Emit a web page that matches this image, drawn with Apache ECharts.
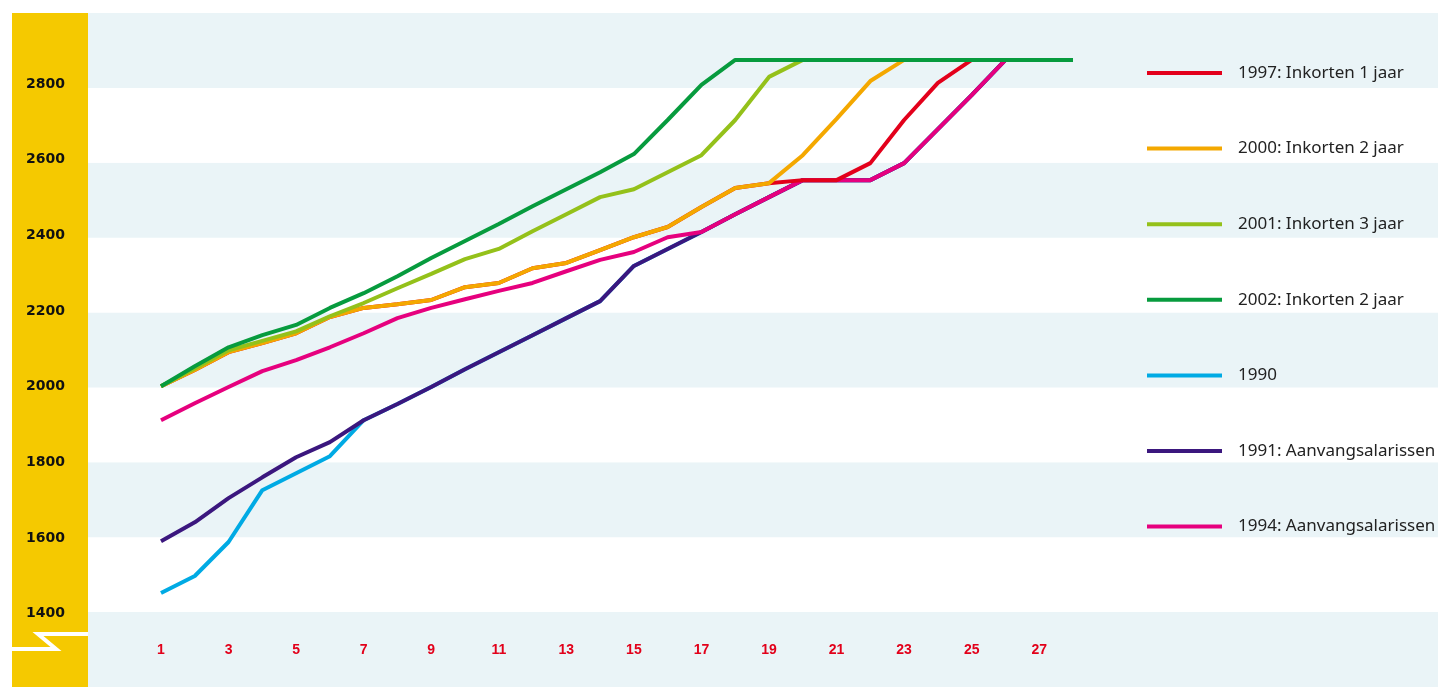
<!DOCTYPE html>
<html>
<head>
<meta charset="utf-8">
<script src="https://cdn.jsdelivr.net/npm/echarts@6/dist/echarts.min.js"></script>
<style>
html,body{margin:0;padding:0;background:#fff;}
#chart{width:1438px;height:687px;}
</style>
</head>
<body>
<div id="chart"></div>
<script>
const categories = ['1','2','3','4','5','6','7','8','9','10','11','12','13','14','15','16','17','18','19','20','21','22','23','24','25','26','27','28'];

const yMin = 1200, yLabelMin = 1400, yMax = 3000, yStep = 200;

const s1990 = [1466,1511,1601,1738,1783,1828,1923,1966,2011,2058,2103,2148,2193,2238,2331,2376,2421,2468,2513,2558,2558,2558,2603,2693,2783,2876,2876,2876];
const s1991 = [1603,1653,1717,1772,1825,1865,1923,1966,2011,2058,2103,2148,2193,2238,2331,2376,2421,2468,2513,2558,2558,2558,2603,2693,2783,2876,2876,2876];
const s1994 = [1923,1968,2011,2053,2082,2116,2153,2193,2220,2243,2265,2286,2317,2347,2368,2407,2421,2468,2513,2558,2558,2558,2603,2693,2783,2876,2876,2876];
const s1997 = [2013,2056,2103,2127,2153,2196,2220,2230,2241,2275,2286,2325,2339,2373,2407,2434,2487,2537,2550,2558,2558,2603,2717,2815,2876,2876,2876,2876];
const s2000 = [2013,2056,2103,2127,2153,2196,2220,2230,2241,2275,2286,2325,2339,2373,2407,2434,2487,2537,2550,2624,2720,2820,2876,2876,2876,2876,2876,2876];
const s2001 = [2013,2060,2108,2133,2158,2198,2233,2272,2310,2349,2376,2423,2468,2513,2534,2579,2624,2717,2831,2876,2876,2876,2876,2876,2876,2876,2876,2876];
const s2002 = [2013,2066,2116,2148,2175,2220,2259,2304,2352,2397,2442,2489,2534,2579,2627,2717,2810,2876,2876,2876,2876,2876,2876,2876,2876,2876,2876,2876];

const names = {
  n1990: '1990',
  n1991: '1991: Aanvangsalarissen 1',
  n1994: '1994: Aanvangsalarissen 2',
  n1997: '1997: Inkorten 1 jaar',
  n2000: '2000: Inkorten 2 jaar',
  n2001: '2001: Inkorten 3 jaar',
  n2002: '2002: Inkorten 2 jaar'
};
const legendOrder = [names.n1997, names.n2000, names.n2001, names.n2002, names.n1990, names.n1991, names.n1994];

const colors = {
  c1990: '#00aae4', c1991: '#3b177e', c1994: '#e6007e', c1997: '#e3001b',
  c2000: '#f4a800', c2001: '#94c11a', c2002: '#079b3e'
};

function line(name, data, color) {
  return {
    name: name, type: 'line', xAxisIndex: 1, yAxisIndex: 1, z: 3,
    data: data, symbol: 'none', smooth: false,
    lineStyle: { color: color, width: 4 }, itemStyle: { color: color },
    emphasis: { disabled: true }
  };
}

const chart = echarts.init(document.getElementById('chart'), null, { renderer: 'canvas' });
chart.setOption({
  backgroundColor: '#ffffff',
  animation: false,
  grid: [
    { left: 88, right: 0, top: 13, bottom: -6.6 },
    { left: 161, right: 365, top: 13, bottom: 69 }
  ],
  xAxis: [
    { gridIndex: 0, type: 'value', min: 0, max: 1, show: false },
    {
      gridIndex: 1, type: 'category', data: categories, boundaryGap: false, z: 10,
      axisLine: { show: false }, axisTick: { show: false }, splitLine: { show: false },
      axisLabel: {
        interval: 1, margin: 25, color: '#e2001a', fontWeight: 'bold',
        fontFamily: "'Liberation Sans Narrow', 'Liberation Sans', Arial, sans-serif", fontSize: 14
      }
    }
  ],
  yAxis: [
    {
      gridIndex: 0, type: 'value', min: yMin, max: yMax, interval: yStep, z: 0,
      axisLine: { show: false }, axisTick: { show: false }, splitLine: { show: false },
      axisLabel: { show: false },
      splitArea: { show: true, areaStyle: { color: ['#eaf4f7', '#ffffff'] } }
    },
    {
      gridIndex: 1, type: 'value', min: yLabelMin, max: yMax, interval: yStep, z: 10,
      axisLine: { show: false }, axisTick: { show: false }, splitLine: { show: false }, splitArea: { show: false },
      axisLabel: {
        showMaxLabel: false, margin: 96, align: 'right', verticalAlign: 'bottom', lineHeight: 9,
        formatter: function (v) { return String(v); },
        color: '#111', fontWeight: 'bold', fontSize: 14, fontFamily: "'DejaVu Sans', Verdana, sans-serif"
      }
    }
  ],
  legend: {
    orient: 'vertical', left: 1147, top: 63, z: 10, padding: 0,
    data: legendOrder, icon: 'rect', itemWidth: 75, itemHeight: 4, itemGap: 55.6,
    selectedMode: false,
    textStyle: { fontFamily: "'Noto Sans', 'Open Sans', sans-serif", fontSize: 17, color: '#222', lineHeight: 20, padding: [0, 0, 0, 11] }
  },
  graphic: [
    { type: 'rect', z: 5, shape: { x: 12, y: 13, width: 76, height: 674 }, style: { fill: '#f5c900' }, silent: true },
    { type: 'polyline', z: 6, shape: { points: [[88, 634], [38, 634], [56, 649], [12, 649]] }, style: { stroke: '#ffffff', lineWidth: 4, fill: null, lineJoin: 'miter' }, silent: true }
  ],
  series: [
    line(names.n1990, s1990, colors.c1990),
    line(names.n1991, s1991, colors.c1991),
    line(names.n1994, s1994, colors.c1994),
    line(names.n1997, s1997, colors.c1997),
    line(names.n2000, s2000, colors.c2000),
    line(names.n2001, s2001, colors.c2001),
    line(names.n2002, s2002, colors.c2002)
  ]
});
</script>
</body>
</html>
